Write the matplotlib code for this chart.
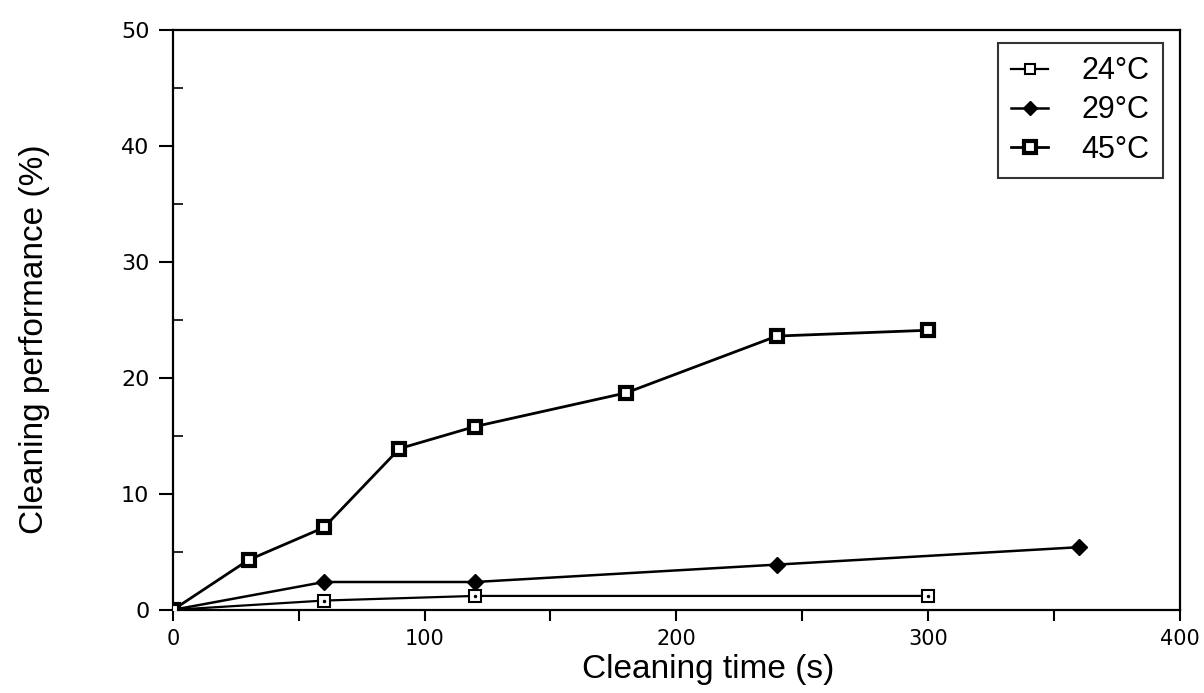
import matplotlib
matplotlib.use("Agg")
import matplotlib.pyplot as plt
from matplotlib.ticker import MultipleLocator

# Data
t24 = [0, 60, 120, 300]
p24 = [0, 0.8, 1.2, 1.2]
t29 = [0, 60, 120, 240, 360]
p29 = [0, 2.4, 2.4, 3.9, 5.4]
t45 = [0, 30, 60, 90, 120, 180, 240, 300]
p45 = [0, 4.3, 7.1, 13.9, 15.8, 18.7, 23.6, 24.1]
labels = ["24°C", "29°C", "45°C"]

fig = plt.figure(figsize=(12.04, 6.93), dpi=100)
ax = fig.add_axes([0.1437, 0.120, 0.836, 0.837])

lab_font = dict(family=["Liberation Sans", "DejaVu Sans"], size=24)

l24, = ax.plot(t24, p24, color="black", lw=1.6, marker="s", ms=8,
               mfc="white", mec="black", mew=1.5, zorder=3)
ax.plot(t24[1:], p24[1:], ls="none", marker=".", ms=3, color="black", zorder=4)
l29, = ax.plot(t29, p29, color="black", lw=1.8, marker="D", ms=8,
               mfc="black", mec="black", zorder=3)
l45, = ax.plot(t45, p45, color="black", lw=2.0, marker="s", ms=9,
               mfc="white", mec="black", mew=3.0, zorder=3)

ax.set_xlim(0, 400)
ax.set_ylim(0, 50)
ax.xaxis.set_major_locator(MultipleLocator(100))
ax.xaxis.set_minor_locator(MultipleLocator(50))
ax.yaxis.set_major_locator(MultipleLocator(10))
ax.yaxis.set_minor_locator(MultipleLocator(5))
ax.tick_params(axis="x", which="both", direction="out", length=8, width=1.5)
ax.tick_params(axis="y", which="major", direction="out", length=10, width=1.5)
ax.tick_params(axis="y", which="minor", direction="in", length=7, width=1.2)
ax.tick_params(axis="y", which="major", labelsize=16, pad=7)
ax.tick_params(axis="x", which="major", labelsize=15, pad=6)
for lbl in ax.get_xticklabels() + ax.get_yticklabels():
    lbl.set_family("DejaVu Sans")
for s in ax.spines.values():
    s.set_linewidth(1.6)

ax.set_xlabel("Cleaning time (s)", fontdict=lab_font)
ax.set_ylabel("Cleaning performance (%)", fontdict=lab_font)
ax.xaxis.set_label_coords(0.532, -0.076)
ax.yaxis.set_label_coords(-0.122, 0.466)

leg = ax.legend([l24, l29, l45], labels, loc="upper right",
                bbox_to_anchor=(0.984, 0.978), borderaxespad=0,
                frameon=True, fancybox=False,
                edgecolor="black", prop=dict(family="Liberation Sans", size=22),
                handlelength=1.2, handletextpad=1.1, borderpad=0.45,
                labelspacing=0.3, markerscale=0.9)
leg.get_frame().set_linewidth(1.5)

fig.savefig("out.png", dpi=100, facecolor="white")
